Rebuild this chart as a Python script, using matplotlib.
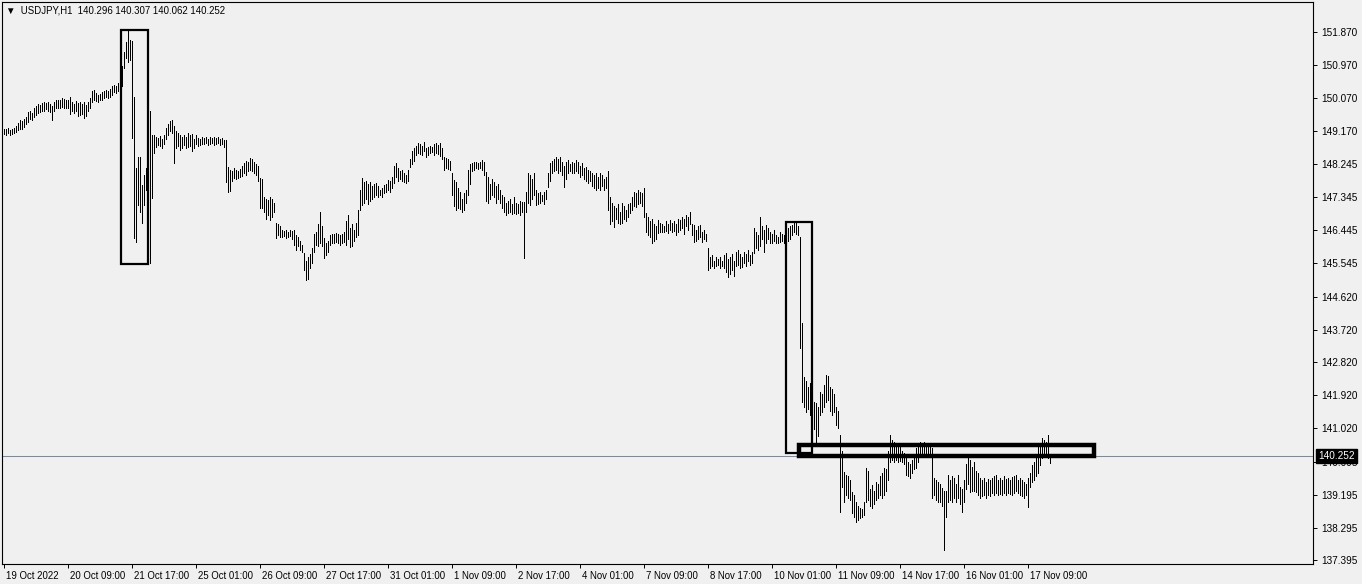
import matplotlib
matplotlib.use("Agg")
import matplotlib.pyplot as plt
import matplotlib.transforms as mtransforms
from matplotlib.patches import Rectangle
import numpy as np

# USDJPY H1 bars, highs and lows (one row = 16 hours)
highs = [
    149.22, 149.20, 149.23, 149.18, 149.20, 149.25, 149.30, 149.38, 149.45, 149.42, 149.50, 149.55, 149.68, 149.72, 149.65, 149.78,
    149.85, 149.90, 149.88, 149.92, 149.95, 149.92, 149.95, 149.90, 149.85, 149.95, 150.00, 150.02, 150.00, 150.05, 150.03, 150.00,
    150.02, 150.08, 149.95, 149.90, 149.98, 149.92, 149.95, 149.90, 149.95, 149.88, 149.95, 150.05, 150.25, 150.28, 150.20, 150.15,
    150.18, 150.22, 150.25, 150.28, 150.25, 150.32, 150.38, 150.42, 150.40, 150.48, 150.50, 150.95, 151.32, 151.60, 151.90, 151.65,
    151.62, 150.09, 148.15, 148.45, 148.45, 147.68, 147.95, 148.15, 148.30, 149.71, 149.05, 149.05, 149.00, 148.98, 149.02, 148.95,
    149.05, 149.25, 149.35, 149.42, 149.45, 149.30, 149.15, 149.10, 149.05, 149.00, 149.05, 149.00, 149.10, 149.05, 149.08, 148.95,
    149.05, 148.98, 148.95, 149.00, 148.98, 149.00, 148.95, 149.00, 148.98, 149.00, 148.98, 149.00, 148.95, 148.98, 148.92, 148.90,
    148.17, 148.10, 148.05, 148.14, 148.10, 148.05, 148.12, 148.20, 148.28, 148.35, 148.30, 148.42, 148.38, 148.30, 148.25, 148.20,
    147.87, 147.84, 147.35, 147.30, 147.28, 147.35, 147.30, 147.20, 146.64, 146.60, 146.55, 146.45, 146.42, 146.45, 146.40, 146.45,
    146.42, 146.45, 146.30, 146.25, 146.15, 146.05, 145.82, 145.60, 145.70, 145.80, 145.95, 146.35, 146.40, 146.60, 146.94, 146.55,
    146.23, 146.10, 146.15, 146.30, 146.35, 146.33, 146.36, 146.33, 146.30, 146.35, 146.40, 146.70, 146.86, 146.50, 146.60, 146.45,
    146.65, 146.99, 147.55, 147.87, 147.75, 147.80, 147.70, 147.75, 147.65, 147.70, 147.73, 147.65, 147.55, 147.60, 147.68, 147.72,
    147.82, 147.80, 147.90, 148.20, 148.28, 148.15, 148.05, 148.10, 148.00, 147.95, 148.10, 148.40, 148.60, 148.69, 148.75, 148.83,
    148.80, 148.75, 148.85, 148.70, 148.72, 148.75, 148.73, 148.80, 148.82, 148.78, 148.83, 148.70, 148.45, 148.42, 148.40, 148.35,
    148.00, 147.82, 147.75, 147.60, 147.50, 147.30, 147.45, 147.55, 148.10, 148.25, 148.28, 148.30, 148.32, 148.28, 148.30, 148.36,
    148.30, 148.03, 147.90, 147.70, 147.85, 147.75, 147.65, 147.70, 147.55, 147.40, 147.35, 147.20, 147.25, 147.30, 147.15, 147.35,
    147.20, 147.15, 147.25, 147.21, 147.21, 147.50, 148.00, 147.95, 147.85, 148.00, 147.54, 147.45, 147.50, 147.40, 147.48, 147.54,
    148.00, 148.28, 148.35, 148.40, 148.45, 148.40, 148.45, 148.30, 148.20, 148.30, 148.36, 148.25, 148.30, 148.28, 148.36, 148.30,
    148.20, 148.28, 148.15, 148.17, 148.10, 148.05, 148.00, 147.95, 148.00, 147.90, 148.00, 147.95, 147.85, 147.90, 148.05, 147.35,
    147.20, 147.10, 147.05, 147.15, 146.95, 147.19, 147.10, 147.00, 147.15, 147.19, 147.35, 147.50, 147.45, 147.54, 147.50, 147.45,
    147.60, 146.90, 146.80, 146.70, 146.75, 146.60, 146.55, 146.72, 146.65, 146.60, 146.55, 146.68, 146.60, 146.72, 146.65, 146.70,
    146.60, 146.75, 146.72, 146.80, 146.75, 146.85, 146.80, 146.94, 146.60, 146.58, 146.45, 146.55, 146.58, 146.40, 146.45, 146.35,
    145.95, 145.70, 145.76, 145.60, 145.70, 145.65, 145.72, 145.60, 145.75, 145.82, 145.65, 145.70, 145.78, 145.60, 145.85, 145.90,
    145.80, 145.70, 145.85, 145.80, 145.90, 145.75, 145.85, 146.50, 146.40, 146.30, 146.80, 146.55, 146.45, 146.58, 146.50, 146.40,
    146.35, 146.45, 146.30, 146.25, 146.40, 146.35, 146.30, 146.25, 146.50, 146.55, 146.58, 146.70, 146.65, 146.55, 146.26, 143.90,
    142.42, 142.30, 142.15, 142.26, 142.10, 141.74, 141.70, 141.60, 142.01, 141.95, 142.20, 142.48, 142.45, 142.15, 142.10, 141.95,
    141.60, 141.50, 140.83, 140.40, 139.82, 139.75, 139.70, 139.60, 139.27, 139.20, 139.00, 138.90, 138.83, 138.80, 139.00, 139.93,
    139.85, 139.35, 139.45, 139.30, 139.55, 139.50, 139.70, 139.80, 139.93, 139.90, 140.40, 140.83, 140.70, 140.64, 140.60, 140.55,
    140.62, 140.40, 140.35, 140.20, 140.10, 140.05, 140.15, 140.30, 140.48, 140.55, 140.64, 140.58, 140.64, 140.60, 140.55, 140.50,
    140.48, 139.66, 139.60, 139.55, 139.50, 139.38, 139.30, 139.30, 139.74, 139.60, 139.70, 139.65, 139.50, 139.74, 139.40, 139.35,
    139.60, 140.05, 140.20, 140.15, 139.95, 140.09, 139.85, 139.80, 139.66, 139.60, 139.66, 139.55, 139.62, 139.60, 139.66, 139.70,
    139.74, 139.60, 139.65, 139.60, 139.70, 139.62, 139.65, 139.60, 139.68, 139.70, 139.74, 139.60, 139.65, 139.60, 139.55, 139.50,
    139.66, 139.80, 140.00, 140.09, 140.20, 140.50, 140.60, 140.75, 140.70, 140.65, 140.82, 140.307,
]
lows = [
    149.08, 149.05, 149.10, 149.05, 149.07, 149.10, 149.12, 149.18, 149.22, 149.20, 149.28, 149.35, 149.40, 149.50, 149.45, 149.55,
    149.60, 149.65, 149.68, 149.70, 149.72, 149.75, 149.72, 149.68, 149.45, 149.70, 149.78, 149.80, 149.78, 149.82, 149.80, 149.78,
    149.80, 149.62, 149.70, 149.65, 149.72, 149.58, 149.60, 149.62, 149.52, 149.58, 149.70, 149.80, 149.95, 150.00, 149.98, 149.95,
    150.00, 150.02, 150.05, 150.08, 150.05, 150.10, 150.15, 150.22, 150.20, 150.25, 150.30, 150.38, 150.88, 151.16, 151.05, 151.10,
    148.97, 146.23, 146.12, 147.13, 146.94, 146.64, 147.13, 147.54, 147.20, 145.54, 147.32, 148.56, 148.72, 148.78, 148.75, 148.70,
    148.80, 148.95, 149.05, 149.15, 149.10, 148.28, 148.70, 148.75, 148.65, 148.70, 148.78, 148.68, 148.72, 148.75, 148.60, 148.70,
    148.80, 148.75, 148.78, 148.80, 148.80, 148.82, 148.78, 148.80, 148.82, 148.78, 148.80, 148.82, 148.78, 148.80, 148.72, 147.76,
    147.49, 147.52, 147.80, 147.87, 147.85, 147.88, 147.90, 147.92, 148.00, 147.95, 148.05, 148.10, 148.05, 148.00, 147.95, 147.80,
    147.05, 147.05, 146.95, 146.75, 146.85, 146.72, 146.80, 146.95, 146.23, 146.30, 146.25, 146.25, 146.28, 146.23, 146.25, 146.28,
    146.20, 146.05, 145.90, 146.00, 145.90, 145.85, 145.35, 145.08, 145.10, 145.40, 145.55, 145.85, 146.05, 146.00, 146.10, 146.00,
    145.68, 145.75, 145.85, 146.05, 146.08, 146.10, 146.12, 146.09, 146.05, 146.10, 146.12, 146.05, 146.20, 145.98, 146.00, 146.15,
    146.25, 146.31, 147.00, 147.13, 147.20, 147.30, 147.15, 147.25, 147.30, 147.35, 147.40, 147.35, 147.40, 147.35, 147.45, 147.50,
    147.55, 147.49, 147.60, 147.73, 147.90, 147.80, 147.85, 147.80, 147.75, 147.73, 147.80, 148.17, 148.25, 148.35, 148.50, 148.55,
    148.52, 148.50, 148.60, 148.45, 148.50, 148.55, 148.58, 148.50, 148.55, 148.52, 148.48, 148.40, 148.09, 148.15, 148.12, 148.10,
    147.40, 147.10, 147.00, 147.05, 147.02, 146.95, 147.00, 147.20, 147.40, 147.70, 148.05, 148.10, 148.14, 148.12, 148.15, 148.10,
    147.95, 147.25, 147.20, 147.30, 147.40, 147.35, 147.20, 147.30, 147.19, 147.05, 146.95, 146.86, 146.90, 146.95, 146.88, 146.92,
    146.88, 146.90, 146.86, 146.95, 145.68, 146.95, 147.20, 147.13, 147.30, 147.40, 147.13, 147.15, 147.20, 147.25, 147.15, 147.30,
    147.63, 147.80, 148.00, 148.05, 148.10, 148.00, 148.05, 147.95, 147.63, 147.85, 148.00, 148.05, 148.00, 148.02, 148.05, 148.00,
    147.90, 147.95, 147.85, 147.80, 147.73, 147.80, 147.65, 147.60, 147.54, 147.60, 147.55, 147.65, 147.55, 147.60, 147.00, 146.60,
    146.70, 146.53, 146.75, 146.65, 146.60, 146.64, 146.75, 146.70, 146.80, 146.90, 147.00, 147.10, 147.08, 147.15, 147.20, 147.10,
    146.80, 146.40, 146.30, 146.25, 146.09, 146.15, 146.20, 146.36, 146.40, 146.38, 146.40, 146.42, 146.36, 146.45, 146.40, 146.42,
    146.31, 146.40, 146.45, 146.50, 146.35, 146.55, 146.45, 146.60, 146.30, 146.12, 146.15, 146.20, 146.25, 146.12, 146.20, 146.15,
    145.35, 145.41, 145.45, 145.42, 145.45, 145.50, 145.42, 145.45, 145.40, 145.30, 145.16, 145.25, 145.35, 145.20, 145.45, 145.50,
    145.40, 145.43, 145.55, 145.45, 145.60, 145.50, 145.55, 145.82, 145.95, 145.90, 146.00, 146.20, 145.85, 146.10, 146.20, 146.09,
    146.10, 146.15, 146.09, 146.10, 146.12, 146.15, 146.10, 146.12, 146.15, 146.20, 146.30, 146.40, 146.35, 146.30, 143.21, 141.74,
    141.60, 141.46, 141.55, 141.38, 141.50, 141.00, 140.56, 140.80, 141.38, 141.45, 141.60, 141.74, 141.80, 141.50, 141.38, 141.45,
    141.10, 141.02, 138.72, 139.40, 139.00, 139.20, 139.10, 139.05, 138.70, 138.60, 138.45, 138.50, 138.56, 138.58, 138.65, 139.00,
    139.05, 138.90, 138.83, 138.95, 139.05, 139.10, 139.20, 139.11, 139.20, 139.30, 139.60, 140.09, 140.15, 140.09, 140.15, 140.10,
    140.12, 140.10, 140.05, 139.75, 139.70, 139.66, 139.80, 139.90, 139.93, 140.10, 140.28, 140.30, 140.28, 140.30, 140.28, 140.25,
    139.11, 139.20, 139.05, 139.00, 139.00, 138.90, 137.68, 138.60, 139.00, 139.05, 139.00, 139.10, 139.00, 139.10, 138.95, 138.72,
    139.00, 139.35, 139.50, 139.27, 139.30, 139.30, 139.27, 139.20, 139.11, 139.15, 139.20, 139.11, 139.20, 139.15, 139.25, 139.20,
    139.25, 139.19, 139.22, 139.20, 139.25, 139.19, 139.25, 139.22, 139.20, 139.25, 139.30, 139.25, 139.20, 139.15, 139.10, 139.20,
    138.86, 139.40, 139.55, 139.60, 139.70, 139.80, 140.00, 140.20, 140.25, 140.30, 140.20, 140.062,
]

last_bar = [140.296, 140.307, 140.062, 140.252]   # O H L C of the last bar
last_price = 140.252

time_labels = ['19 Oct 2022', '20 Oct 09:00', '21 Oct 17:00', '25 Oct 01:00', '26 Oct 09:00',
               '27 Oct 17:00', '31 Oct 01:00', '1 Nov 09:00', '2 Nov 17:00', '4 Nov 01:00',
               '7 Nov 09:00', '8 Nov 17:00', '10 Nov 01:00', '11 Nov 09:00', '14 Nov 17:00',
               '16 Nov 01:00', '17 Nov 09:00']
label_step = 32   # bars between time labels

price_ticks = [151.870, 150.970, 150.070, 149.170, 148.245, 147.345, 146.445, 145.545,
               144.620, 143.720, 142.820, 141.920, 141.020, 140.095, 139.195, 138.295, 137.395]

# hand drawn boxes: (first bar, last bar, top price, bottom price)
boxes = [(58.85, 72.0, 151.925, 145.524),
         (391.0, 404.0, 146.666, 140.348)]
thick_box = (397.85, 545.0, 140.545, 140.249)

n = min(len(highs), len(lows))
idx = np.arange(n)

bg = '#f0f0f0'
plt.rcParams['font.family'] = ['Liberation Sans', 'DejaVu Sans']

fig = plt.figure(figsize=(13.62, 5.84), dpi=100, facecolor=bg)
ax = fig.add_axes([2 / 1362, 20 / 584, 1311 / 1362, 562 / 584], facecolor=bg)

# 1 px wide bars, 2 px apart
ax.vlines(idx, lows[:n], highs[:n], colors='black', linewidth=0.5, antialiased=False)

ax.axhline(last_price, color='#7a8aa0', linewidth=0.75)

for x0, x1, top, bot in boxes:
    ax.add_patch(Rectangle((x0, bot), x1 - x0, top - bot, fill=False,
                           edgecolor='black', linewidth=1.6, zorder=5))
x0, x1, top, bot = thick_box
ax.add_patch(Rectangle((x0, bot), x1 - x0, top - bot, fill=False,
                       edgecolor='black', linewidth=3.2, zorder=5))

ax.set_xlim(-0.75, 654.75)
ax.set_ylim(137.299, 152.692)

for s in ax.spines.values():
    s.set_color('black')
    s.set_linewidth(0.8)

# price scale on the right
ax.yaxis.tick_right()
ax.set_yticks(price_ticks)
ax.set_yticklabels(['%.3f' % p for p in price_ticks])
ax.tick_params(axis='y', length=3, width=0.7, pad=3, labelsize=7.2, colors='black')

# time scale, labels to the right of the tick
tick_pos = [label_step * k for k in range(len(time_labels))]
ax.set_xticks(tick_pos)
ax.set_xticklabels(time_labels, ha='left')
ax.tick_params(axis='x', length=3, width=0.7, pad=2, labelsize=6.9, colors='black')
offset = mtransforms.ScaledTranslation(2 / 100, 0, fig.dpi_scale_trans)
for lab in ax.get_xticklabels():
    lab.set_transform(lab.get_transform() + offset)

# current price label (covers the 140.095 scale label as in the terminal)
ax.text(1.004, last_price, '%.3f' % last_price, transform=ax.get_yaxis_transform(),
        ha='left', va='center', fontsize=7.2, color='white', clip_on=False, zorder=10,
        bbox=dict(boxstyle='square,pad=0.18', facecolor='black', edgecolor='black'))

# header
ax.text(0.003, 0.985, '\u25bc  USDJPY,H1  ' + ' '.join('%.3f' % v for v in last_bar),
        transform=ax.transAxes, ha='left', va='center', fontsize=6.9,
        family=['Liberation Sans', 'DejaVu Sans'])

fig.savefig('out.png', dpi=100, facecolor=bg)
